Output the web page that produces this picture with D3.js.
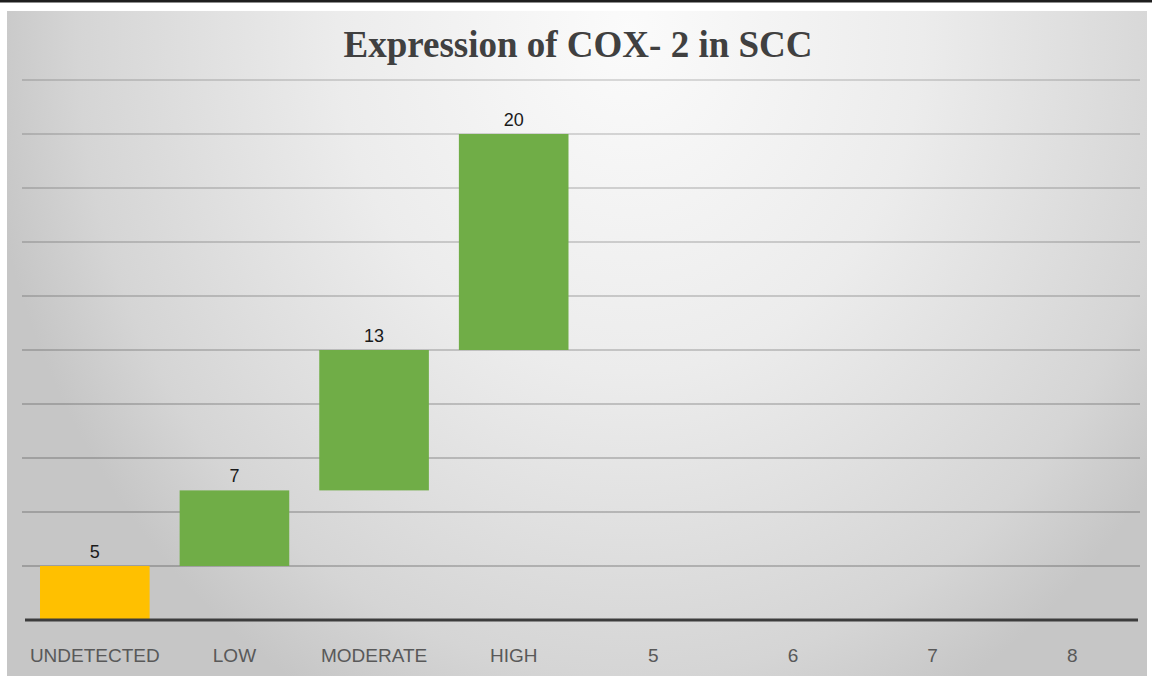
<!DOCTYPE html>
<html>
<head>
<meta charset="utf-8">
<script src="https://cdn.jsdelivr.net/npm/d3@7"></script>
<style>
  html, body { margin: 0; padding: 0; background: #ffffff; }
  svg { display: block; }
</style>
</head>
<body>
<svg id="chart" width="1152" height="679"></svg>
<script>
// Category labels along the bottom axis
const categories = ["UNDETECTED", "LOW", "MODERATE", "HIGH", "5", "6", "7", "8"];
// Step values of the waterfall (first is the starting total)
const stepValues = [5, 7, 13, 20];
// Kind of each step: starting total or increase
const stepKinds = ["total", "increase", "increase", "increase"];
// Horizontal gridline values
const gridValues = [0, 5, 10, 15, 20, 25, 30, 35, 40, 45, 50];

const title = "Expression of COX- 2 in SCC";
const colors = { total: "#FFC000", increase: "#70AD47" };

const svg = d3.select("#chart");

// Chart frame with soft radial shading
const frame = { x: 7, y: 11, w: 1140, h: 665 };
const defs = svg.append("defs");
const grad = defs.append("radialGradient")
  .attr("id", "bgShade")
  .attr("gradientUnits", "userSpaceOnUse")
  .attr("cx", 0).attr("cy", 0).attr("r", 1)
  .attr("gradientTransform", "translate(630,30) scale(650,760)");
grad.append("stop").attr("offset", 0).attr("stop-color", "#fbfbfb");
grad.append("stop").attr("offset", 0.45).attr("stop-color", "#ececec");
grad.append("stop").attr("offset", 0.85).attr("stop-color", "#d5d5d5");
grad.append("stop").attr("offset", 1).attr("stop-color", "#c6c6c6");

// thin dark rule across the very top
svg.append("rect").attr("x", 0).attr("y", 0).attr("width", 1152).attr("height", 2.5).attr("fill", "#1e1e1e");

svg.append("rect")
  .attr("x", frame.x).attr("y", frame.y)
  .attr("width", frame.w).attr("height", frame.h)
  .attr("fill", "url(#bgShade)");

// Scales
const x = d3.scaleBand()
  .domain(categories)
  .range([25, 1142])
  .paddingInner(0.215)
  .paddingOuter(0.1075);

const y = d3.scaleLinear().domain([0, 50]).range([620, 80]);

// Gridlines
svg.append("g")
  .selectAll("line")
  .data(gridValues.filter(v => v > 0))
  .join("line")
  .attr("x1", 22).attr("x2", 1140)
  .attr("y1", d => y(d)).attr("y2", d => y(d))
  .attr("stroke", "#000")
  .attr("stroke-opacity", d => 0.42 - d * 0.003)
  .attr("stroke-width", 1.2);

// Waterfall steps: each bar floats from the running total
let running = 0;
const steps = stepValues.map((v, i) => {
  const start = stepKinds[i] === "total" ? 0 : running;
  const end = stepKinds[i] === "total" ? v : running + v;
  running = end;
  return { cat: categories[i], value: v, start, end, kind: stepKinds[i] };
});

svg.append("g")
  .selectAll("rect")
  .data(steps)
  .join("rect")
  .attr("x", d => x(d.cat))
  .attr("width", x.bandwidth())
  .attr("y", d => y(d.end))
  .attr("height", d => y(d.start) - y(d.end))
  .attr("fill", d => colors[d.kind]);

// Value labels above each bar
svg.append("g")
  .selectAll("text")
  .data(steps)
  .join("text")
  .attr("x", d => x(d.cat) + x.bandwidth() / 2)
  .attr("y", d => y(d.end) - 8)
  .attr("text-anchor", "middle")
  .attr("font-family", "'Liberation Sans', Arial, sans-serif")
  .attr("font-size", 18)
  .attr("fill", "#1a1a1a")
  .text(d => d.value);

// Category axis
const xAxis = svg.append("g")
  .attr("transform", "translate(0,620)")
  .call(d3.axisBottom(x).tickSize(0).tickPadding(29));
xAxis.select(".domain").remove();
xAxis.selectAll("text")
  .attr("font-family", "'Liberation Sans', Arial, sans-serif")
  .attr("font-size", 19)
  .attr("fill", "#595959");

// Axis baseline
svg.append("line")
  .attr("x1", 25).attr("x2", 1138)
  .attr("y1", y(0)).attr("y2", y(0))
  .attr("stroke", "#3c3c3c")
  .attr("stroke-width", 3);

// Title
svg.append("text")
  .attr("x", 578)
  .attr("y", 57)
  .attr("text-anchor", "middle")
  .attr("font-family", "'Liberation Serif', 'Times New Roman', serif")
  .attr("font-weight", "bold")
  .attr("font-size", 37)
  .attr("fill", "#404040")
  .text(title);
</script>
</body>
</html>
